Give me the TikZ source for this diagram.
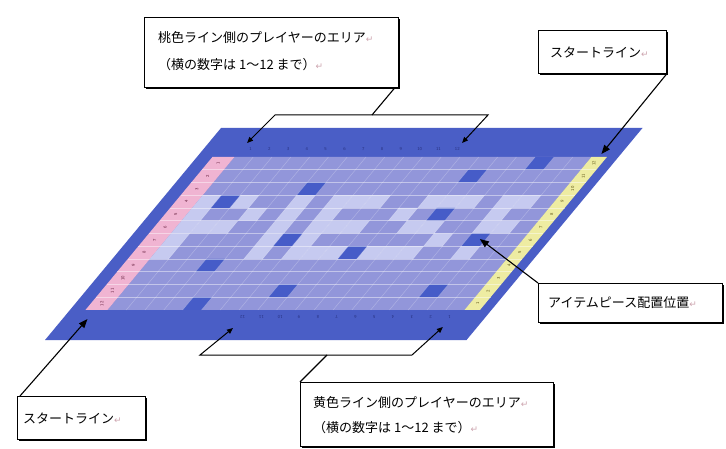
\documentclass[tikz,border=0pt]{standalone}
\usepackage{fontspec}
\newfontfamily\jp{Noto Sans CJK JP}
\newfontfamily\symf{DejaVu Sans}
\usetikzlibrary{arrows.meta,shadows}
\definecolor{boardblue}{RGB}{74,94,198}
\definecolor{cellbase}{RGB}{146,150,218}
\definecolor{celllight}{RGB}{198,202,240}
\definecolor{celldark}{RGB}{70,92,200}
\definecolor{pinkcol}{RGB}{240,180,210}
\definecolor{yellowcol}{RGB}{238,236,162}
\definecolor{retmark}{RGB}{205,165,175}
\definecolor{numnavy}{RGB}{40,50,130}
\definecolor{numpink}{RGB}{100,30,60}
\definecolor{numyel}{RGB}{95,85,20}
\newcommand\retm{{\symf\fontsize{9}{9}\selectfont\color{retmark}↵}}
\begin{document}
\begin{tikzpicture}[x=1pt,y=-1pt,
  callbox/.style={draw=black,line width=0.8pt,fill=white,anchor=north west,
    drop shadow={shadow xshift=2pt,shadow yshift=-2pt,fill=black,opacity=1}},
  lbl/.style={anchor=west,inner sep=0pt,font=\jp\fontsize{13}{15}\selectfont},
  lead/.style={draw=black,line width=1.1pt,-{Triangle[length=9pt,width=7pt]}},
  plainln/.style={draw=black,line width=1.1pt},
  brk/.style={draw=black,line width=1pt,{Triangle[length=6pt,width=5pt]}-{Triangle[length=6pt,width=5pt]}},
  rowln/.style={draw=white,opacity=0.45,line width=0.6pt},
  colln/.style={draw=white,opacity=0.25,line width=0.5pt},
  numtxt/.style={inner sep=0pt,font=\sffamily\fontsize{4.5}{4.5}\selectfont}]
\useasboundingbox (0,0) rectangle (726,449);
\fill[white] (0,0) rectangle (726,449);

% ---- board (slanted) ----
\begin{scope}[shift={(0,128)},xslant=0.83]
  \fill[boardblue] (221,0) rectangle (642.5,212);
  \fill[cellbase] (258.5,29) rectangle (615.5,182);
  \fill[pinkcol] (236.5,29) rectangle (258.5,182);
  \fill[yellowcol] (615.5,29) rectangle (631,182);
  % light cells
  \foreach \c/\r in {0/3,2/3,5/3,7/3,8/3,9/3,12/3,13/3,14/3,16/3,17/3,
                     0/4,3/4,5/4,7/4,11/4,16/4,
                     0/5,1/5,2/5,5/5,7/5,8/5,9/5,12/5,13/5,16/5,17/5,
                     0/6,5/6,7/6,14/6,
                     0/7,5/7,7/7,8/7,9/7,11/7,12/7,13/7,16/7}
    \fill[celllight] ({258.5+18.8*\c},{29+12.75*\r}) rectangle ++(18.8,12.75);
  % dark cells (item pieces)
  \foreach \c/\r in {16/0,13/1,5/2,1/3,13/4,6/6,16/6,10/7,3/8,8/10,16/10,4/11}
    \fill[celldark] ({258.5+18.8*\c},{29+12.75*\r}) rectangle ++(18.8,12.75);
  % grid lines
  \foreach \r in {1,...,11}
    \draw[rowln] (236.5,{29+12.75*\r}) -- (631,{29+12.75*\r});
  \foreach \c in {1,...,18}
    \draw[colln] ({258.5+18.8*\c},29) -- ({258.5+18.8*\c},182);
  % numbers
  \foreach \n [count=\i from 0] in {1,...,12}
    \node[numtxt,text=numnavy] (tn\i) at ({267.9+18.8*\i},21) {\n};
  \foreach \n [count=\i from 0] in {12,11,...,1}
    \node[numtxt,text=numnavy,rotate=180] (bn\i) at ({267.9+18.8*(7+\i)},189) {\n};
  \foreach \n [count=\i from 0] in {1,...,12}
    \node[numtxt,text=numpink,rotate=90] (pn\i) at (247.5,{29+12.75*(\i+0.5)}) {\n};
  \foreach \n [count=\i from 0] in {12,11,...,1}
    \node[numtxt,text=numyel,rotate=90] (yn\i) at (623.25,{29+12.75*(\i+0.5)}) {\n};
  % connector targets
  \coordinate (ytop) at (623,26);
  \coordinate (pbot) at (246,191);
  \coordinate (itemcell) at (572,111);
  \coordinate (tbLe) at (259.5,15);
  \coordinate (tbRe) at (474.5,15);
  \coordinate (bbLe) at (399,200);
  \coordinate (bbRe) at (608,199);
\end{scope}

% ---- bracket helper points ----
\coordinate (tbL) at (275,115);
\coordinate (tbR) at (488,115);
\coordinate (tbM) at (372,115);
\coordinate (bbL) at (200,355);
\coordinate (bbR) at (412,355);
\coordinate (bbM) at (327,355);

% ---- callout boxes ----
\node[callbox,minimum width=254pt,minimum height=70pt] (topbox) at (144,17) {};
\node[lbl] (toptxt1) at (158,38) {桃色ライン側のプレイヤーのエリア\retm};
\node[lbl] (toptxt2) at (158,65) {（横の数字は 1～12 まで）\retm};

\node[callbox,minimum width=128pt,minimum height=43pt] (trbox) at (538,30) {};
\node[lbl] (trtxt) at (550,52) {スタートライン\retm};

\node[callbox,minimum width=184pt,minimum height=39pt] (rbox) at (538,283) {};
\node[lbl] (rtxt) at (548,303) {アイテムピース配置位置\retm};

\node[callbox,minimum width=128pt,minimum height=43pt] (blbox) at (17,396) {};
\node[lbl] (bltxt) at (23,418) {スタートライン\retm};

\node[callbox,minimum width=253pt,minimum height=64pt] (botbox) at (300,382) {};
\node[lbl] (bottxt1) at (313,403) {黄色ライン側のプレイヤーのエリア\retm};
\node[lbl] (bottxt2) at (313,428) {（横の数字は 1～12 まで）\retm};

% ---- connectors ----
\draw[brk] (tbLe) -- (tbL) -- (tbR) -- (tbRe);
\draw[plainln] ([xshift=-4pt]topbox.south east) -- (tbM);
\draw[brk] (bbLe) -- (bbL) -- (bbR) -- (bbRe);
\draw[plainln] (bbM) -- (botbox.north west);
\draw[lead] (trbox.south east) -- (ytop);
\draw[lead] (rbox.north west) -- (itemcell);
\draw[lead] ([xshift=3pt]blbox.north west) -- (pbot);
\end{tikzpicture}
\end{document}
